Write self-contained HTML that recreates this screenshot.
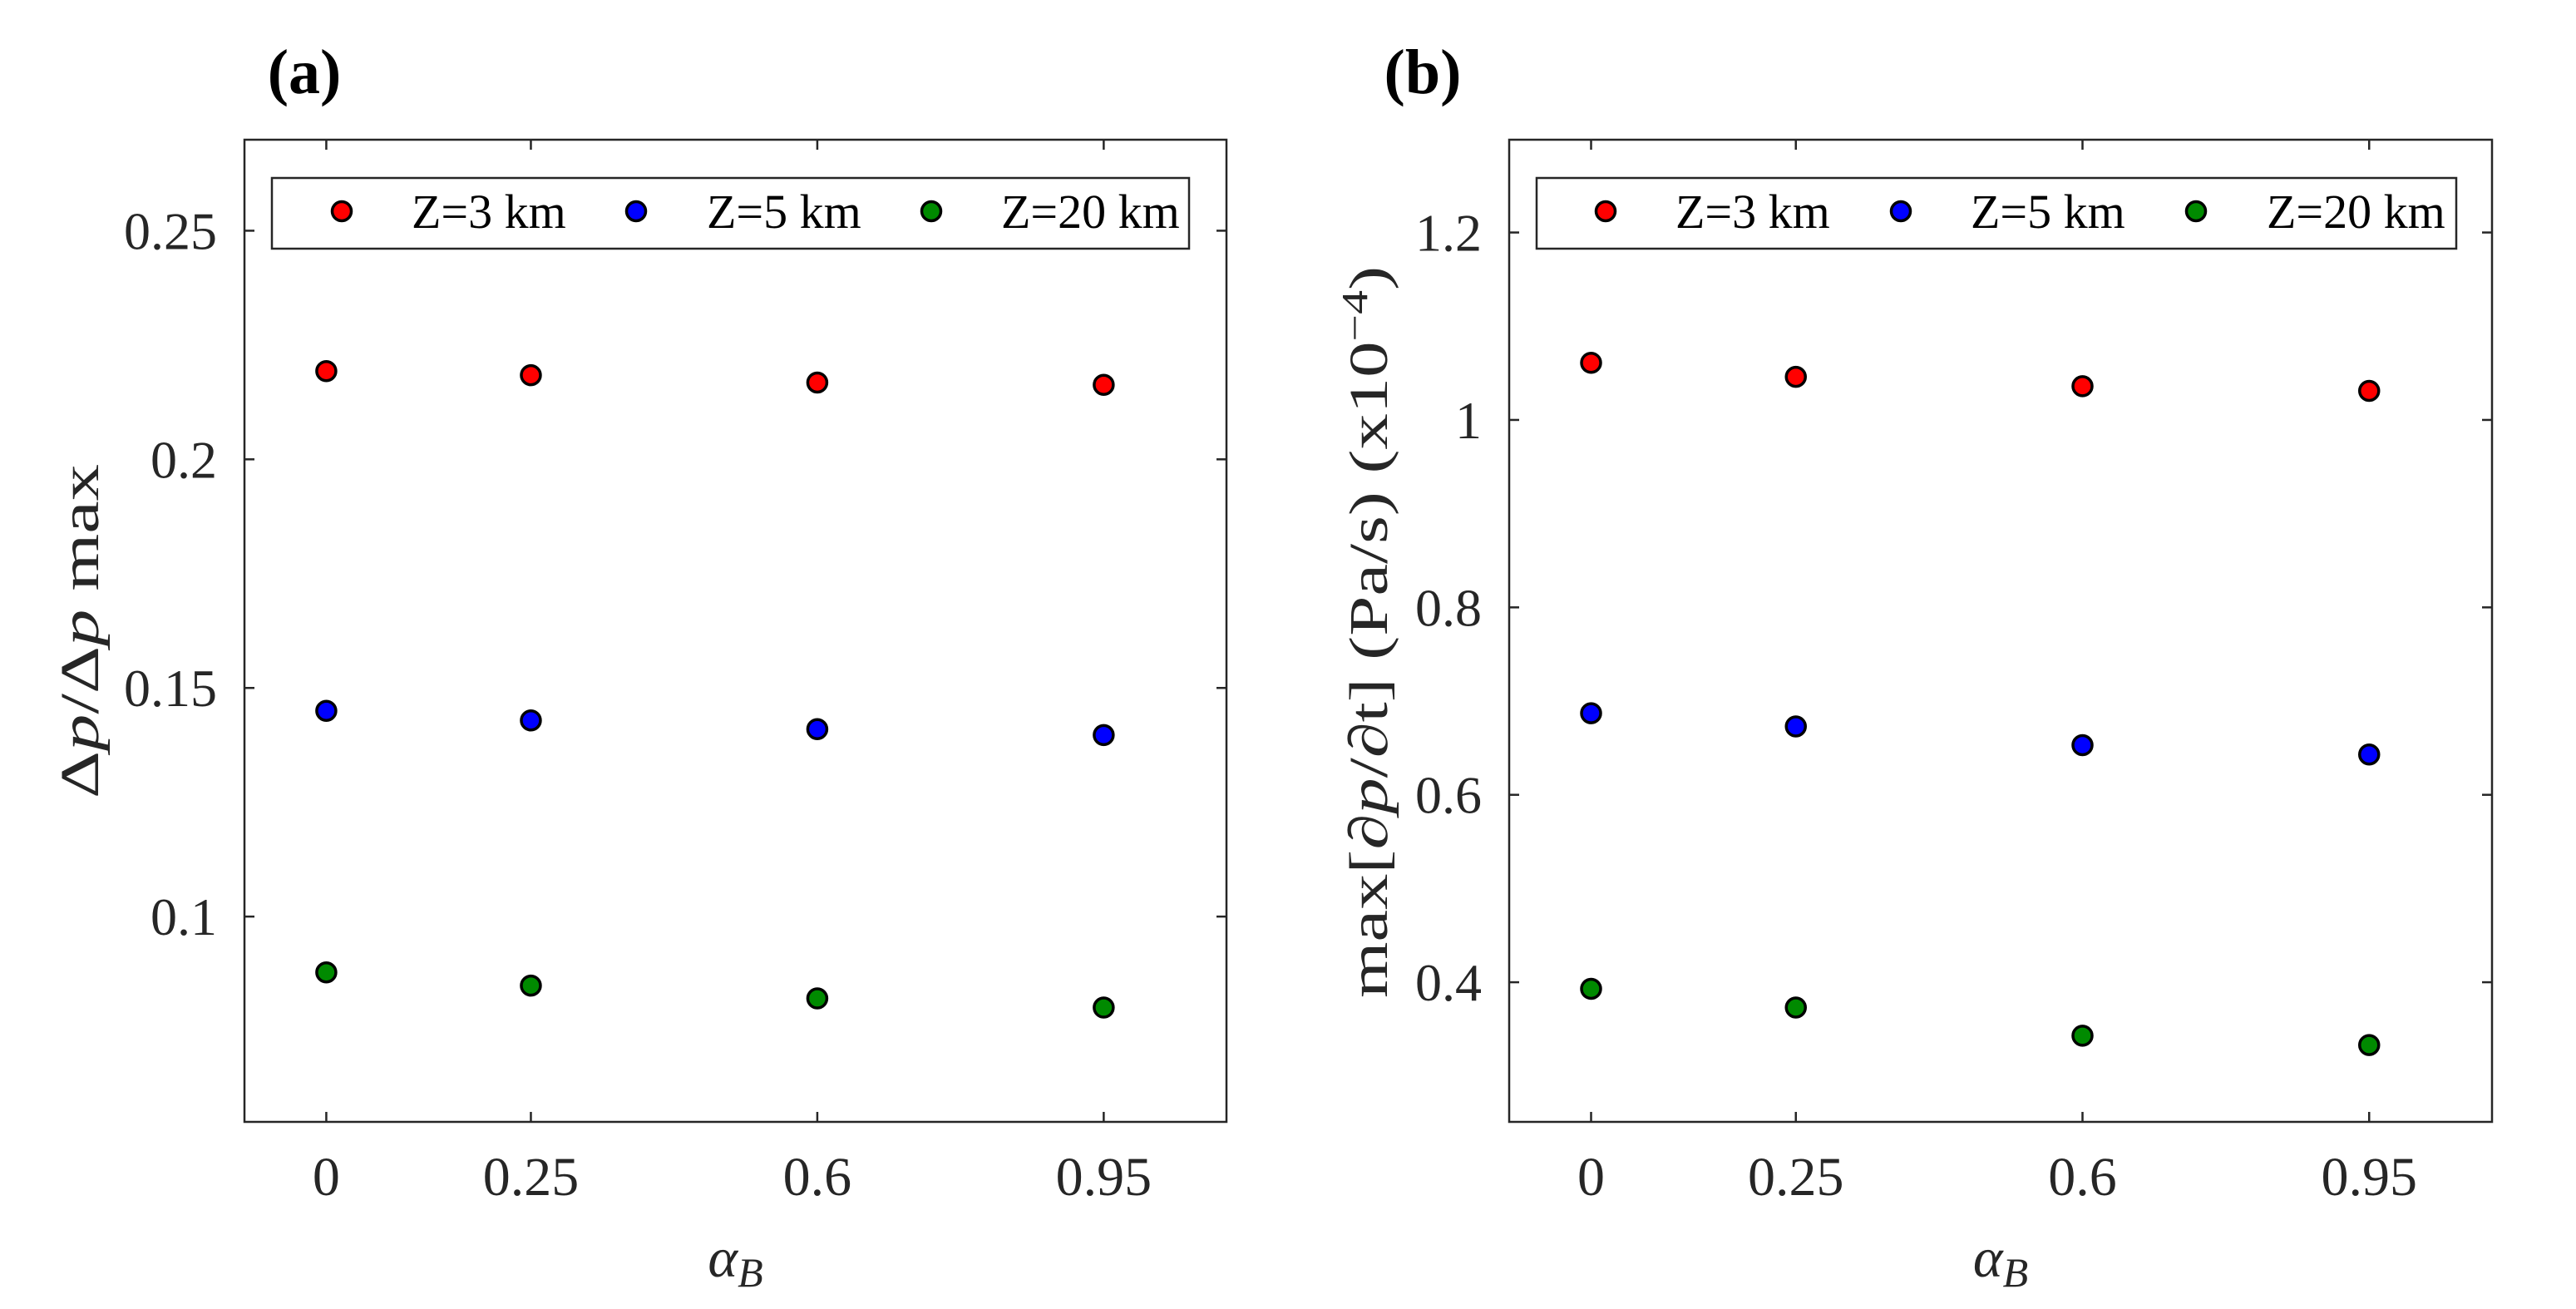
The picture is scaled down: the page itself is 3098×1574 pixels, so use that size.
<!DOCTYPE html>
<html><head><meta charset="utf-8"><style>
html,body{margin:0;padding:0;background:#fff;font-family:"Liberation Serif","Times New Roman",serif;}
svg{display:block;font-family:"Liberation Serif","Times New Roman",serif;}
svg text{font-family:"Liberation Serif","Times New Roman",serif;}
</style></head><body>
<svg id="fig" width="3098" height="1574" viewBox="0 0 3098 1574" xmlns="http://www.w3.org/2000/svg">
<text x="366" y="112" font-family="Liberation Serif, serif" font-size="76" font-weight="bold" text-anchor="middle">(a)</text>
<text x="1711" y="112" font-family="Liberation Serif, serif" font-size="76" font-weight="bold" text-anchor="middle">(b)</text>
<g id="pa"></g>
<g id="pb"></g>
</svg>
<script>
// shared x categories
const alphaValues = [0, 0.25, 0.6, 0.95];
const xTickLabels = ["0", "0.25", "0.6", "0.95"];
const seriesNames = ["Z=3 km", "Z=5 km", "Z=20 km"];
const seriesColors = ["#ff0000", "#0000ff", "#008a00"];
// panel a data
const aZ3 = [0.2193, 0.2184, 0.2168, 0.2163];
const aZ5 = [0.1450, 0.1429, 0.1410, 0.1397];
const aZ20 = [0.0878, 0.0849, 0.0821, 0.0801];
const aYTicks = [0.1, 0.15, 0.2, 0.25];
const aYTickLabels = ["0.1", "0.15", "0.2", "0.25"];
// panel b data
const bZ3 = [1.061, 1.046, 1.036, 1.031];
const bZ5 = [0.687, 0.673, 0.653, 0.643];
const bZ20 = [0.393, 0.373, 0.343, 0.333];
const bYTicks = [0.4, 0.6, 0.8, 1.0, 1.2];
const bYTickLabels = ["0.4", "0.6", "0.8", "1", "1.2"];

const NS = "http://www.w3.org/2000/svg";
const FONT = "Liberation Serif, Times New Roman, serif";
function mk(parent, tag, attrs, text){
  const e = document.createElementNS(NS, tag);
  for (const k in attrs) e.setAttribute(k, attrs[k]);
  if (tag === "text") e.setAttribute("font-family", FONT);
  if (text !== undefined) e.textContent = text;
  parent.appendChild(e);
  return e;
}
const AX = "#262626";

function panel(g, cfg){
  const L = cfg.left, R = cfg.right, T = 168, B = 1349;
  const xs = v => L + (v - (-0.1)) / 1.2 * (R - L);
  const ys = v => B - (v - cfg.ymin) / (cfg.ymax - cfg.ymin) * (B - T);
  alphaValues.forEach((a, i) => {
    const x = xs(a);
    const t1 = mk(g, "line", {x1:x, x2:x, y1:B, y2:B-12, stroke:AX, "stroke-width":2.5});
    
    
    const t2 = mk(g, "line", {x1:x, x2:x, y1:T, y2:T+12, stroke:AX, "stroke-width":2.5});
    
    
    const lb = mk(g, "text", {x:x, y:1437, "font-size":66, "text-anchor":"middle", fill:AX}, xTickLabels[i]);
    
    
  });
  cfg.yticks.forEach((v, i) => {
    const y = ys(v);
    const t1 = mk(g, "line", {x1:L, x2:L+12, y1:y, y2:y, stroke:AX, "stroke-width":2.5});
    
    
    const t2 = mk(g, "line", {x1:R, x2:R-12, y1:y, y2:y, stroke:AX, "stroke-width":2.5});
    
    
    const lb = mk(g, "text", {x:L-33, y:y+22, "font-size":64, "text-anchor":"end", fill:AX}, cfg.ylabels[i]);
    
    
  });
  const box = mk(g, "rect", {x:L, y:T, width:R-L, height:B-T, fill:"none", stroke:AX, "stroke-width":2.5});
  
  
  cfg.series.forEach((vals, si) => {
    vals.forEach((v, i) => {
      const c = mk(g, "circle", {cx:xs(alphaValues[i]), cy:ys(v), r:11.5, fill:seriesColors[si], stroke:"#000", "stroke-width":3.5});
      
      
    });
  });
  const lg = mk(g, "g", {});
  
  
  const lr = mk(lg, "rect", {x:cfg.legL, y:214, width:cfg.legR-cfg.legL, height:85, fill:"#fff", stroke:AX, "stroke-width":2.5});
  
  
  seriesNames.forEach((n, si) => {
    const m = mk(lg, "circle", {cx:cfg.legM[si], cy:254, r:11.5, fill:seriesColors[si], stroke:"#000", "stroke-width":3.5});
    
    
    const t = mk(lg, "text", {x:cfg.legT[si], y:274, "font-size":58, fill:"#000"}, n);
    
    
  });
  const xl = mk(g, "text", {x:(L+R)/2, y:1535, "font-size":68, "font-style":"italic", "text-anchor":"middle", fill:AX});
  
  
  mk(xl, "tspan", {}, "α");
  mk(xl, "tspan", {dy:12, "font-size":50}, "B");
  const yl = mk(g, "text", {x:0, y:0, "font-size":66, "text-anchor":"middle", fill:AX,
    transform:"translate(" + cfg.ylx + "," + cfg.yly + ") rotate(-90)", textLength:cfg.ylLen, lengthAdjust:"spacingAndGlyphs"});
  
  
  cfg.ylabelParts(yl);
}

panel(document.getElementById("pa"), {
  left:294, right:1475, ymin:0.0551, ymax:0.2699,
  yticks:aYTicks, ylabels:aYTickLabels, series:[aZ3, aZ5, aZ20],
  legL:327, legR:1430, legM:[411, 765, 1120], legT:[495, 850, 1204],
  ylx:118, yly:759, ylLen:402,
  ylabelParts: t => { mk(t, "tspan", {}, "Δ"); mk(t, "tspan", {"font-style":"italic"}, "p"); mk(t, "tspan", {}, "/Δ"); mk(t, "tspan", {"font-style":"italic"}, "p"); mk(t, "tspan", {}, " max"); }
});
panel(document.getElementById("pb"), {
  left:1815, right:2997, ymin:0.251, ymax:1.299,
  yticks:bYTicks, ylabels:bYTickLabels, series:[bZ3, bZ5, bZ20],
  legL:1848, legR:2954, legM:[1931, 2286, 2641], legT:[2015, 2370, 2726],
  ylx:1668, yly:760, ylLen:880,
  ylabelParts: t => { mk(t, "tspan", {}, "max[∂"); mk(t, "tspan", {"font-style":"italic"}, "p"); mk(t, "tspan", {}, "/∂t] (Pa/s) (x10"); mk(t, "tspan", {dy:-24, "font-size":44}, "−4"); mk(t, "tspan", {dy:24}, ")"); }
});
</script>
</body></html>
